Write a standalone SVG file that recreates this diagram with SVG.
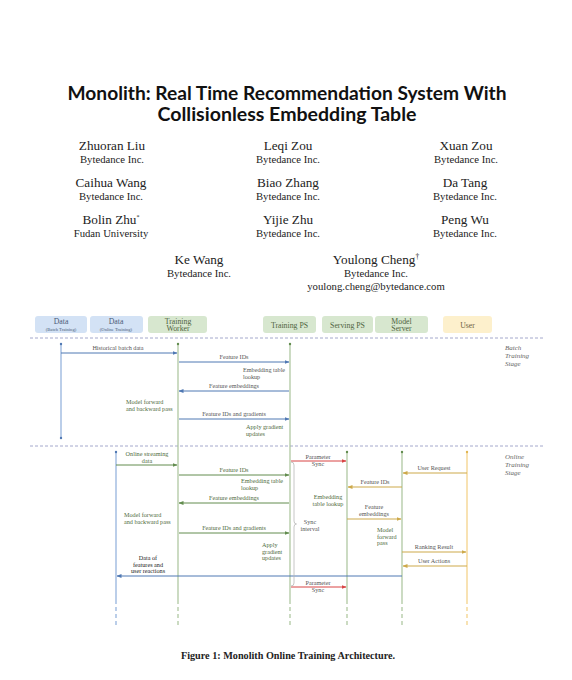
<svg xmlns="http://www.w3.org/2000/svg" width="572" height="680" viewBox="0 0 572 680">
<style>
.title{font-family:Lato,"Open Sans",sans-serif;font-weight:bold;font-size:19px;fill:#111;text-anchor:middle}
.name{font-family:"Liberation Serif",serif;font-size:13.2px;fill:#222;text-anchor:middle}
.aff{font-family:"Liberation Serif",serif;font-size:10.7px;fill:#222;text-anchor:middle}
.cap{font-family:"Liberation Serif",serif;font-weight:bold;font-size:10.2px;fill:#222;text-anchor:middle}
.hd{font-family:"Liberation Serif",serif;font-size:7.8px;text-anchor:middle}
.hs{font-family:"Liberation Serif",serif;font-size:4.6px;text-anchor:middle}
.lb{font-family:"Liberation Serif",serif;font-size:6.2px;fill:#555}
.lg{font-family:"Liberation Serif",serif;font-size:6.2px;fill:#4f6b40}
.lk{font-family:"Liberation Serif",serif;font-size:6.2px;fill:#222}
.st{font-family:"Liberation Serif",serif;font-style:italic;font-size:7px;fill:#666}
.mid{text-anchor:middle}
.sep{stroke:#a4a8cc;stroke-width:1;stroke-dasharray:3,2;fill:none}
.llb{stroke:#8eaedb;stroke-width:1.2;fill:none}
.llg{stroke:#a9c39a;stroke-width:1.2;fill:none}
.lly{stroke:#f3cf80;stroke-width:1.2;fill:none}
.dash{stroke-dasharray:4,3}
.ab{stroke:#4f78b3;stroke-width:1;fill:none;marker-end:url(#mb)}
.ag{stroke:#628c4e;stroke-width:1;fill:none;marker-end:url(#mg)}
.ay{stroke:#cda94a;stroke-width:1;fill:none;marker-end:url(#my)}
.ar{stroke:#d84545;stroke-width:1;fill:none;marker-end:url(#mr)}
</style>
<defs>
<marker id="mb" markerWidth="5" markerHeight="4" refX="4.5" refY="2" orient="auto" markerUnits="userSpaceOnUse"><path d="M0,0 L5,2 L0,4 z" fill="#4f78b3"/></marker>
<marker id="mg" markerWidth="5" markerHeight="4" refX="4.5" refY="2" orient="auto" markerUnits="userSpaceOnUse"><path d="M0,0 L5,2 L0,4 z" fill="#628c4e"/></marker>
<marker id="my" markerWidth="5" markerHeight="4" refX="4.5" refY="2" orient="auto" markerUnits="userSpaceOnUse"><path d="M0,0 L5,2 L0,4 z" fill="#cda94a"/></marker>
<marker id="mr" markerWidth="5" markerHeight="4" refX="4.5" refY="2" orient="auto" markerUnits="userSpaceOnUse"><path d="M0,0 L5,2 L0,4 z" fill="#d84545"/></marker>
</defs>
<rect width="572" height="680" fill="#fff"/>

<g id="header">
<text class="title" x="287" y="100" textLength="439" lengthAdjust="spacingAndGlyphs">Monolith: Real Time Recommendation System With</text>
<text class="title" x="287" y="121" textLength="259" lengthAdjust="spacingAndGlyphs">Collisionless Embedding Table</text>
<text class="name" x="112" y="150">Zhuoran Liu</text><text class="aff" x="112" y="163">Bytedance Inc.</text>
<text class="name" x="288" y="150">Leqi Zou</text><text class="aff" x="288" y="163">Bytedance Inc.</text>
<text class="name" x="466" y="150">Xuan Zou</text><text class="aff" x="466" y="163">Bytedance Inc.</text>
<text class="name" x="111" y="187">Caihua Wang</text><text class="aff" x="111" y="200">Bytedance Inc.</text>
<text class="name" x="288" y="187">Biao Zhang</text><text class="aff" x="288" y="200">Bytedance Inc.</text>
<text class="name" x="465" y="187">Da Tang</text><text class="aff" x="465" y="200">Bytedance Inc.</text>
<text class="name" x="111" y="224">Bolin Zhu<tspan font-size="6" dy="-5">*</tspan></text><text class="aff" x="111" y="237">Fudan University</text>
<text class="name" x="288" y="224">Yijie Zhu</text><text class="aff" x="288" y="237">Bytedance Inc.</text>
<text class="name" x="465" y="224">Peng Wu</text><text class="aff" x="465" y="237">Bytedance Inc.</text>
<text class="name" x="199" y="264">Ke Wang</text><text class="aff" x="199" y="277">Bytedance Inc.</text>
<text class="name" x="376" y="264">Youlong Cheng<tspan font-size="7.5" dy="-5">†</tspan></text><text class="aff" x="376" y="277">Bytedance Inc.</text>
<text class="aff" x="376" y="290">youlong.cheng@bytedance.com</text>
</g>

<g id="node-data-batch">
<rect x="35" y="316" width="52" height="17" rx="3" fill="#d3e2f5"/>
<text class="hd" x="61" y="324" fill="#4a5c78">Data</text>
<text class="hs" x="61" y="330.5" fill="#4a5c78">(Batch Training)</text>
</g>
<g id="node-data-online">
<rect x="90" y="316" width="53" height="17" rx="3" fill="#d3e2f5"/>
<text class="hd" x="116" y="324" fill="#4a5c78">Data</text>
<text class="hs" x="116" y="330.5" fill="#4a5c78">(Online Training)</text>
</g>
<g id="node-training-worker">
<rect x="148" y="316" width="59" height="17" rx="3" fill="#d7e7cf"/>
<text class="hd" x="178" y="323.5" fill="#4f6440">Training</text>
<text class="hd" x="178" y="331" fill="#4f6440">Worker</text>
</g>
<g id="node-training-ps">
<rect x="263" y="316" width="53" height="17" rx="3" fill="#d7e7cf"/>
<text class="hd" x="289.5" y="327.5" fill="#4f6440">Training PS</text>
</g>
<g id="node-serving-ps">
<rect x="322" y="316" width="51" height="17" rx="3" fill="#d7e7cf"/>
<text class="hd" x="347.5" y="327.5" fill="#4f6440">Serving PS</text>
</g>
<g id="node-model-server">
<rect x="375" y="316" width="53" height="17" rx="3" fill="#d7e7cf"/>
<text class="hd" x="401.5" y="323.5" fill="#4f6440">Model</text>
<text class="hd" x="401.5" y="331" fill="#4f6440">Server</text>
</g>
<g id="node-user">
<rect x="443" y="316" width="49" height="17" rx="3" fill="#fdf0cc"/>
<text class="hd" x="467.5" y="327.5" fill="#6e6040">User</text>
</g>

<g id="stages">
<line class="sep" x1="30" y1="338" x2="545" y2="338"/>
<line class="sep" x1="30" y1="446" x2="545" y2="446"/>
<text class="st" x="505" y="350">Batch</text>
<text class="st" x="505" y="358">Training</text>
<text class="st" x="505" y="366">Stage</text>
<text class="st" x="505" y="459">Online</text>
<text class="st" x="505" y="467">Training</text>
<text class="st" x="505" y="475">Stage</text>
</g>

<g id="lifelines">
<line class="llb" x1="61" y1="344" x2="61" y2="438"/>
<circle cx="61" cy="344" r="1.2" fill="#4f78b3"/><circle cx="61" cy="438" r="1.2" fill="#4f78b3"/>
<line class="llg" x1="178" y1="344" x2="178" y2="600"/>
<line class="llg dash" x1="178" y1="600" x2="178" y2="627"/>
<circle cx="178" cy="344" r="1.2" fill="#628c4e"/>
<line class="llg" x1="290" y1="344" x2="290" y2="600"/>
<line class="llg dash" x1="290" y1="600" x2="290" y2="627"/>
<circle cx="290" cy="344" r="1.2" fill="#628c4e"/>
<line class="llb" x1="116" y1="452" x2="116" y2="600"/>
<line class="llb dash" x1="116" y1="600" x2="116" y2="627"/>
<circle cx="116" cy="452" r="1.2" fill="#4f78b3"/>
<line class="llg" x1="347" y1="452" x2="347" y2="600"/>
<line class="llg dash" x1="347" y1="600" x2="347" y2="627"/>
<circle cx="347" cy="452" r="1.2" fill="#628c4e"/>
<line class="llg" x1="402" y1="452" x2="402" y2="600"/>
<line class="llg dash" x1="402" y1="600" x2="402" y2="627"/>
<circle cx="402" cy="452" r="1.2" fill="#628c4e"/>
<line class="lly" x1="467" y1="452" x2="467" y2="600"/>
<line class="lly dash" x1="467" y1="600" x2="467" y2="627"/>
<circle cx="467" cy="452" r="1.2" fill="#e0b550"/>
</g>

<g id="connectors">
<line class="ab" x1="61" y1="353" x2="177" y2="353"/>
<text class="lb mid" x="118" y="350">Historical batch data</text>
<line class="ab" x1="179" y1="362" x2="289" y2="362"/>
<text class="lb mid" x="234" y="359">Feature IDs</text>
<text class="lb" x="243" y="372">Embedding table</text>
<text class="lb" x="243" y="378.5">lookup</text>
<line class="ab" x1="289" y1="391" x2="179" y2="391"/>
<text class="lb mid" x="234" y="388">Feature embeddings</text>
<text class="lg" x="126" y="404">Model forward</text>
<text class="lg" x="126" y="410.5">and backward pass</text>
<line class="ab" x1="179" y1="419" x2="289" y2="419"/>
<text class="lb mid" x="234" y="416">Feature IDs and gradients</text>
<text class="lg" x="246" y="429">Apply gradient</text>
<text class="lg" x="246" y="435.5">updates</text>

<line class="ag" x1="116" y1="465" x2="177" y2="465"/>
<text class="lg mid" x="147" y="456">Online streaming</text>
<text class="lg mid" x="147" y="462.5">data</text>
<line class="ag" x1="179" y1="475" x2="289" y2="475"/>
<text class="lg mid" x="234" y="472">Feature IDs</text>
<text class="lg" x="241" y="483">Embedding table</text>
<text class="lg" x="241" y="489.5">lookup</text>
<line class="ag" x1="289" y1="503" x2="179" y2="503"/>
<text class="lg mid" x="234" y="500">Feature embeddings</text>
<text class="lg" x="124" y="517">Model forward</text>
<text class="lg" x="124" y="523.5">and backward pass</text>
<line class="ag" x1="179" y1="533" x2="289" y2="533"/>
<text class="lg mid" x="234" y="530">Feature IDs and gradients</text>
<text class="lg" x="262" y="547">Apply</text>
<text class="lg" x="262" y="553.5">gradient</text>
<text class="lg" x="262" y="560">updates</text>
<line class="ab" x1="402" y1="576" x2="117" y2="576"/>
<text class="lk mid" x="148" y="560">Data of</text>
<text class="lk mid" x="148" y="566.5">features and</text>
<text class="lk mid" x="148" y="573">user reactions</text>

<line class="ar" x1="291" y1="461" x2="346" y2="461"/>
<text class="lb mid" x="318" y="458.5">Parameter</text>
<text class="lb mid" x="318" y="465.5">Sync</text>
<line class="ar" x1="291" y1="587" x2="346" y2="587"/>
<text class="lb mid" x="318" y="585">Parameter</text>
<text class="lb mid" x="318" y="592">Sync</text>
<path d="M291,462 q3,0 3,3 L294,521 q0,3 2.5,3 q-2.5,0 -2.5,3 L294,583 q0,3 -3,3" stroke="#b8b8b8" stroke-width="0.8" fill="none"/>
<text class="lb mid" x="310" y="524">Sync</text>
<text class="lb mid" x="310" y="530.5">interval</text>

<line class="ay" x1="467" y1="473" x2="403" y2="473"/>
<text class="lb mid" x="434" y="470">User Request</text>
<line class="ay" x1="402" y1="487" x2="348" y2="487"/>
<text class="lb mid" x="375" y="484">Feature IDs</text>
<text class="lg mid" x="328" y="499">Embedding</text>
<text class="lg mid" x="328" y="505.5">table lookup</text>
<line class="ay" x1="347" y1="519" x2="401" y2="519"/>
<text class="lb mid" x="374" y="509">Feature</text>
<text class="lb mid" x="374" y="515.5">embeddings</text>
<text class="lg" x="377" y="532">Model</text>
<text class="lg" x="377" y="538.5">forward</text>
<text class="lg" x="377" y="545">pass</text>
<line class="ay" x1="402" y1="552" x2="466" y2="552"/>
<text class="lb mid" x="434" y="549">Ranking Result</text>
<line class="ay" x1="467" y1="566" x2="403" y2="566"/>
<text class="lb mid" x="434" y="563">User Actions</text>
</g>

<g id="caption">
<text class="cap" x="288" y="659">Figure 1: Monolith Online Training Architecture.</text>
</g>
</svg>
